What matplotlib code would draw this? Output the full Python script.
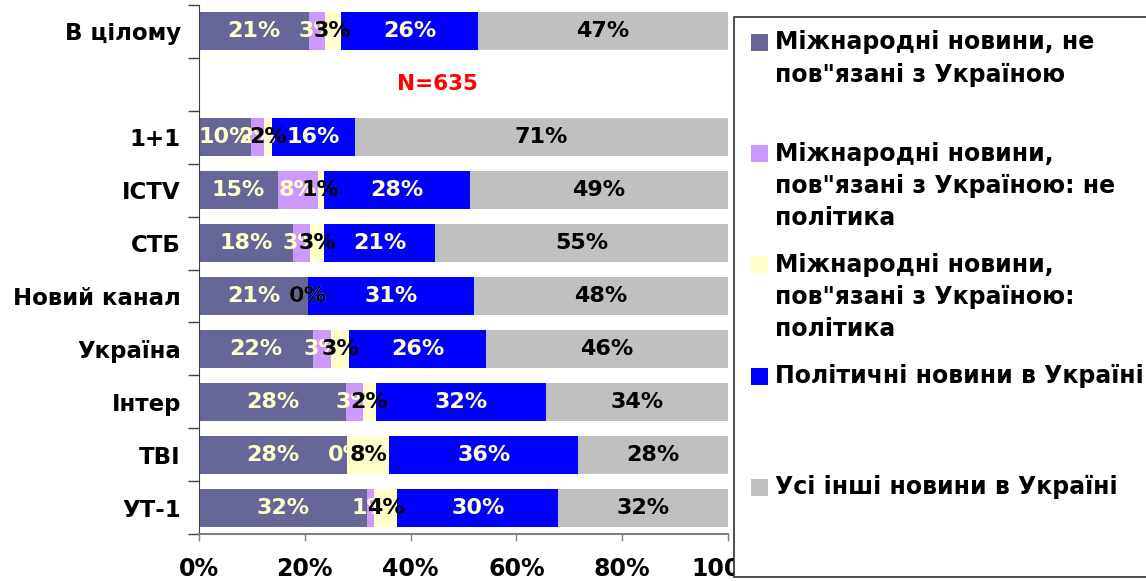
import numpy as np
import matplotlib
matplotlib.use("Agg")
import matplotlib.pyplot as plt
from matplotlib.patches import Rectangle

plt.rcParams["font.family"] = ["DejaVu Sans"]
plt.rcParams["font.weight"] = "bold"

# Categories, top to bottom (second slot is left empty in the chart)
channels = ["В цілому", "", "1+1", "ICTV", "СТБ", "Новий канал",
            "Україна", "Інтер", "ТВІ", "УТ-1"]

# Shares of news types, % (nan = empty slot)
intl_not_ua = [20.8, np.nan, 9.8, 14.9, 17.7, 20.6, 21.6, 27.8, 28.0, 31.7]
intl_ua_nonpol = [3.0, np.nan, 2.4, 7.6, 3.2, 0.0, 3.4, 3.2, 0.0, 1.4]
intl_ua_pol = [3.0, np.nan, 1.6, 1.1, 2.8, 0.0, 3.4, 2.4, 8.0, 4.4]
ua_pol = [26.0, np.nan, 15.6, 27.6, 21.0, 31.3, 25.8, 32.2, 35.7, 30.4]
ua_other = [47.2, np.nan, 70.6, 48.8, 55.3, 48.1, 45.8, 34.4, 28.3, 32.1]

series_names = [
    "Міжнародні новини, не\nпов\"язані з Україною",
    "Міжнародні новини,\nпов\"язані з Україною: не\nполітика",
    "Міжнародні новини,\nпов\"язані з Україною:\nполітика",
    "Політичні новини в Україні",
    "Усі інші новини в Україні",
]
series_colors = ["#666699", "#CC99FF", "#FFFFCC", "#0000FF", "#C0C0C0"]
label_colors = ["#FFFFCC", "#FFFFCC", "black", "#FFFFCC", "black"]
x_ticks = [0, 20, 40, 60, 80, 100]
sample_note = "N=635"

W, H = 1146, 581
fig = plt.figure(figsize=(W / 100, H / 100), dpi=100)
ax = fig.add_axes([199 / W, 1 - 534.3 / H, 529 / W, 529.6 / H])

# Stacked 100% bars
y = np.arange(len(channels))
left = np.zeros(len(channels))
all_series = [intl_not_ua, intl_ua_nonpol, intl_ua_pol, ua_pol, ua_other]
for vals, col, lcol in zip(all_series, series_colors, label_colors):
    vals = np.array(vals, dtype=float)
    w = np.nan_to_num(vals)
    ax.barh(y, w, left=left, height=0.72, color=col, edgecolor="none")
    for yi, (v, l) in enumerate(zip(vals, left)):
        if np.isnan(v):
            continue
        ax.text(l + v / 2, yi, f"{v:.0f}%", ha="center", va="center",
                color=lcol, fontsize=16, fontweight="bold")
    left += w

ax.text(45, 1, sample_note, color="red", ha="center", va="center",
        fontsize=15.5, fontweight="bold")

ax.set_xlim(0, 100)
ax.set_ylim(len(channels) - 0.5, -0.5)

# category labels centred, tick marks on category boundaries
ax.set_yticks(np.arange(len(channels) + 1) - 0.5)
ax.set_yticklabels([])
ax.set_yticks(y, minor=True)
ax.set_yticklabels(channels, minor=True, fontsize=16.5, fontweight="bold")
ax.tick_params(axis="y", which="major", length=8, width=1, color="#404040")
ax.tick_params(axis="y", which="minor", length=0, pad=13)

ax.set_xticks(x_ticks)
ax.set_xticklabels([f"{t}%" for t in x_ticks], fontsize=17, fontweight="bold")
ax.tick_params(axis="x", length=5, width=1, color="#808080", pad=11)

for s in ["top", "right"]:
    ax.spines[s].set_visible(False)
ax.spines["left"].set_color("#404040")
ax.spines["bottom"].set_color("#808080")
ax.spines["bottom"].set_linewidth(1.5)


def fx(px):
    return px / W


def fy(py):
    return 1 - py / H


# Legend box drawn over the cut-off right part of the axis
fig.add_artist(Rectangle((fx(734), fy(577)), fx(1160) - fx(734), fy(17) - fy(577),
                         transform=fig.transFigure, facecolor="white",
                         edgecolor="#303030", linewidth=1.2, zorder=5))
for i, (name, col) in enumerate(zip(series_names, series_colors)):
    yc = 42.5 + i * 111.2
    fig.add_artist(Rectangle((fx(751), fy(yc + 8.5)), fx(17), 17 / H,
                             transform=fig.transFigure, facecolor=col,
                             edgecolor="none", zorder=6))
    fig.text(fx(775), fy(yc - 12), name, ha="left", va="top", fontsize=17,
             fontweight="bold", linespacing=1.43, zorder=7)

fig.savefig("out.png", dpi=100)
